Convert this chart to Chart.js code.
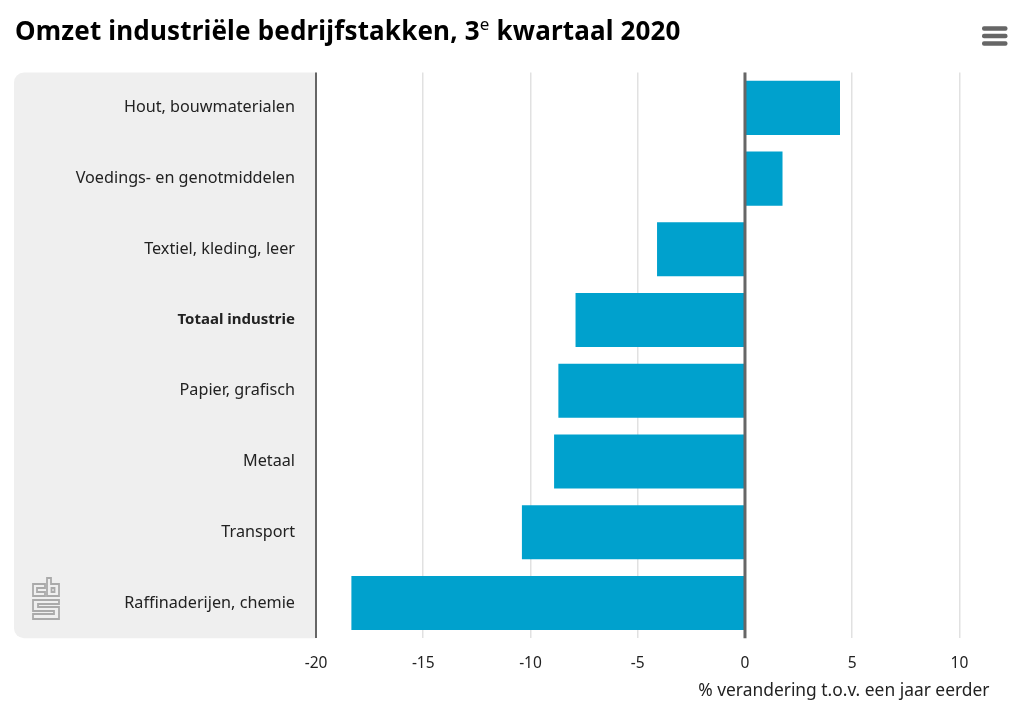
<!DOCTYPE html>
<html>
<head>
<meta charset="utf-8">
<script src="https://cdn.jsdelivr.net/npm/chart.js@4"></script>
<style>
  html, body { margin: 0; padding: 0; background: #fff; }
  #wrap { position: relative; width: 1024px; height: 717px; overflow: hidden; }
  #chart { position: absolute; left: 0; top: 0; }
  h1 {
    position: absolute; left: 15px; top: 12px; margin: 0; white-space: nowrap;
    font: bold 26px "Noto Sans", sans-serif; letter-spacing: 0.17px; color: #000;
  }
  h1 sup { font-size: 17px; font-weight: normal; line-height: 0; vertical-align: 10px; }
  #menu { position: absolute; left: 982px; top: 25px; }
  #logo { position: absolute; left: 31px; top: 576px; }
</style>
</head>
<body>
<div id="wrap">
  <canvas id="chart" width="1024" height="717"></canvas>
  <h1>Omzet industriële bedrijfstakken, 3<sup>e</sup> kwartaal 2020</h1>
  <svg id="menu" width="26" height="22">
    <rect x="0" y="1.25" width="25.5" height="4.5" rx="2" fill="#666"/>
    <rect x="0" y="8.75" width="25.5" height="4.5" rx="2" fill="#666"/>
    <rect x="0" y="16.25" width="25.5" height="4.5" rx="2" fill="#666"/>
  </svg>
  <svg id="logo" width="29" height="44" fill="none" stroke="#aaa" stroke-width="1.8">
    <path d="M14 8H2V20H14V16H6V12H14Z"/>
    <path d="M16 2V20H28V8H20V2Z"/>
    <path d="M20.5 12H23.5V16H20.5Z"/>
    <path d="M28 24H2V35H23V38H2V43H28V31H7V28H28Z"/>
  </svg>
</div>
<script>
const categories = [
  "Hout, bouwmaterialen",
  "Voedings- en genotmiddelen",
  "Textiel, kleding, leer",
  "Totaal industrie",
  "Papier, grafisch",
  "Metaal",
  "Transport",
  "Raffinaderijen, chemie"
];
const values = [4.43, 1.75, -4.1, -7.9, -8.7, -8.9, -10.4, -18.35];
const xTicks = [-20, -15, -10, -5, 0, 5, 10];
const xTitle = "% verandering t.o.v. een jaar eerder";
const boldCategory = "Totaal industrie";

const fontName = '"Noto Sans", sans-serif';

// grey panel behind the category labels
const panelPlugin = {
  id: "panel",
  beforeDraw(chart) {
    const ctx = chart.ctx, area = chart.chartArea;
    ctx.save();
    ctx.fillStyle = "#efefef";
    ctx.beginPath();
    ctx.roundRect(14, area.top, area.left - 14, area.bottom - area.top, [10, 0, 0, 10]);
    ctx.fill();
    ctx.restore();
  }
};

// zero line sits on top of the bars
const zeroLinePlugin = {
  id: "zeroLine",
  afterDatasetsDraw(chart) {
    const ctx = chart.ctx, area = chart.chartArea;
    const x = chart.scales.x.getPixelForValue(0);
    ctx.save();
    ctx.strokeStyle = "#666";
    ctx.lineWidth = 3;
    ctx.beginPath();
    ctx.moveTo(x, area.top);
    ctx.lineTo(x, area.bottom);
    ctx.stroke();
    ctx.restore();
  }
};

new Chart(document.getElementById("chart"), {
  type: "bar",
  data: {
    labels: categories,
    datasets: [{
      data: values,
      backgroundColor: "#00a1cd",
      borderWidth: 0,
      barPercentage: 0.765,
      categoryPercentage: 1
    }]
  },
  plugins: [panelPlugin, zeroLinePlugin],
  options: {
    indexAxis: "y",
    responsive: false,
    animation: false,
    devicePixelRatio: 1,
    layout: { padding: { top: 72.5, right: 34.5, bottom: 14, left: 14 } },
    plugins: {
      legend: { display: false },
      title: { display: false },
      tooltip: { enabled: false }
    },
    scales: {
      x: {
        min: -20,
        max: 11.4,
        afterBuildTicks(scale) {
          scale.ticks = xTicks.map(v => ({ value: v }));
        },
        afterFit(scale) { scale.height = 64.7; },
        grid: {
          drawTicks: false,
          color: ctx => ctx.tick && ctx.tick.value === -20 ? "#666" : "#e1e1e1",
          lineWidth: ctx => ctx.tick && ctx.tick.value === -20 ? 2 : 1.5
        },
        border: { display: false },
        ticks: {
          color: "#222",
          font: { family: fontName, size: 15.5 },
          padding: 16,
          maxRotation: 0,
          autoSkip: false
        },
        title: {
          display: true,
          text: xTitle,
          align: "end",
          color: "#222",
          font: { family: fontName, size: 17.4 },
          padding: { top: 4, bottom: 2 }
        }
      },
      y: {
        afterFit(scale) { scale.width = 302; },
        grid: { display: false, drawTicks: false },
        border: { display: false },
        ticks: {
          color: "#222",
          padding: 21,
          autoSkip: false,
          font: ctx => {
            const isBold = categories[ctx.index] === boldCategory;
            return { family: fontName, size: isBold ? 15 : 16.2, weight: isBold ? "bold" : "normal" };
          }
        }
      }
    }
  }
});
</script>
</body>
</html>
